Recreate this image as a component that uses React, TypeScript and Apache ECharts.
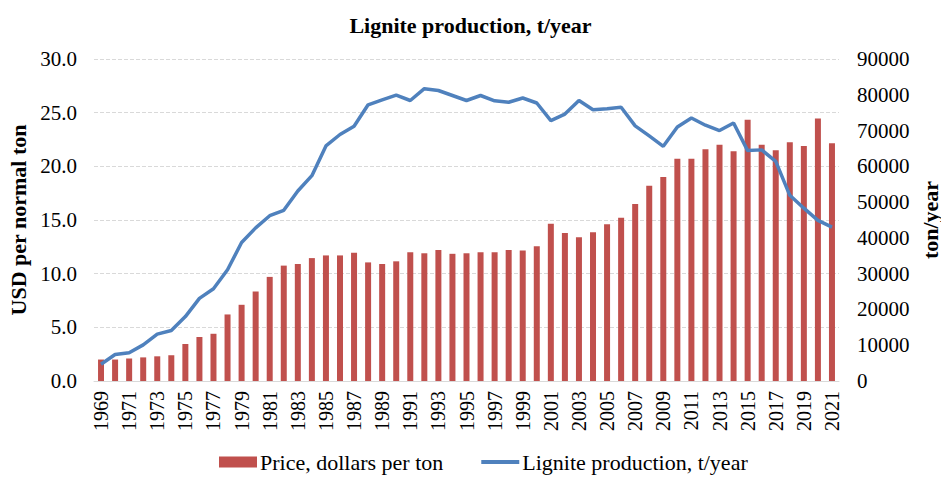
import React, { useEffect, useRef } from "react";
import * as echarts from "echarts";

const years: string[] = [];
for (let y = 1969; y <= 2021; y++) years.push(String(y));

const price: number[] = [
  2.0, 2.0, 2.1, 2.2, 2.3, 2.4, 3.45, 4.1, 4.4, 6.2,
  7.1, 8.35, 9.7, 10.75, 10.9, 11.45, 11.7, 11.7, 11.95, 11.05,
  10.9, 11.15, 12.0, 11.9, 12.2, 11.85, 11.9, 12.0, 12.0, 12.2,
  12.15, 12.55, 14.65, 13.8, 13.4, 13.85, 14.6, 15.2, 16.5, 18.2,
  19.0, 20.7, 20.7, 21.6, 22.0, 21.4, 24.35, 22.0, 21.5, 22.25,
  21.9, 24.45, 22.15,
];

const production: number[] = [
  4700, 7400, 7900, 10100, 13100, 14100, 18000, 23100, 25800, 31100,
  38700, 42800, 46200, 47700, 53100, 57400, 65700, 68900, 71200, 77200,
  78600, 79900, 78400, 81700, 81200, 79800, 78400, 79800, 78300, 77900,
  79100, 77700, 72800, 74600, 78400, 75800, 76100, 76500, 71300, 68500,
  65600, 71000, 73500, 71500, 70000, 72100, 64400, 64600, 61400, 51900,
  48300, 44900, 43000,
];

const FONT = "'Liberation Serif', 'Times New Roman', serif";
const FS = 21;

export default function App() {
  const ref = useRef<HTMLDivElement>(null);
  useEffect(() => {
    if (!ref.current) return;
    const chart = echarts.init(ref.current, undefined, { renderer: "svg" });
    chart.setOption({
      animation: false,
      textStyle: { fontFamily: FONT },
      title: {
        text: "Lignite production, t/year",
        left: "center",
        top: 9,
        textStyle: { fontFamily: FONT, fontSize: 22, fontWeight: "bold", color: "#000" },
      },
      legend: {
        top: 445,
        left: 214,
        itemGap: 38,
        itemWidth: 38,
        itemHeight: 11,
        textStyle: { fontFamily: FONT, fontSize: 22, lineHeight: 24, color: "#000", padding: [0, 0, 0, -2] },
        data: [
          { name: "Price, dollars per ton", icon: "rect" },
          { name: "Lignite production, t/year", icon: "path://M0,0 L40,0 L40,4 L0,4 Z" },
        ],
      },
      grid: {
        left: 94,
        right: 102,
        top: 59,
        bottom: 97,
        containLabel: false,
        outerBoundsMode: "none",
      },
      xAxis: {
        type: "category",
        data: years,
        axisLine: { lineStyle: { color: "#d9d9d9" } },
        axisTick: { show: false },
        axisLabel: {
          interval: 1,
          rotate: 90,
          fontFamily: FONT,
          fontSize: 20,
          color: "#000",
          margin: 10,
        },
      },
      yAxis: [
        {
          type: "value",
          min: 0,
          max: 30,
          interval: 5,
          name: "USD per normal ton",
          nameLocation: "middle",
          nameRotate: 90,
          nameGap: 64,
          nameTextStyle: { fontFamily: FONT, fontSize: 22, fontWeight: "bold", color: "#000" },
          axisLine: { show: false },
          axisTick: { show: false },
          axisLabel: {
            fontFamily: FONT,
            fontSize: FS,
            color: "#000",
            margin: 17,
            formatter: (v: number) => v.toFixed(1),
          },
          splitLine: { lineStyle: { type: "dashed", color: "#d9d9d9" } },
        },
        {
          type: "value",
          min: 0,
          max: 90000,
          interval: 10000,
          name: "ton/year",
          nameLocation: "middle",
          nameRotate: 90,
          nameGap: 80,
          nameMoveOverlap: false,
          nameTextStyle: { fontFamily: FONT, fontSize: 22, lineHeight: 22, fontWeight: "bold", color: "#000" },
          axisLine: { show: false },
          axisTick: { show: false },
          axisLabel: {
            fontFamily: FONT,
            fontSize: FS,
            color: "#000",
            margin: 18,
            formatter: (v: number) => String(v),
          },
          splitLine: { show: false },
        },
      ],
      series: [
        {
          name: "Price, dollars per ton",
          type: "bar",
          data: price,
          barWidth: 6,
          itemStyle: { color: "#C0504D" },
          yAxisIndex: 0,
        },
        {
          name: "Lignite production, t/year",
          type: "line",
          data: production,
          yAxisIndex: 1,
          symbol: "none",
          lineStyle: { color: "#4F81BD", width: 3.5 },
          itemStyle: { color: "#4F81BD" },
        },
      ],
    });
    return () => chart.dispose();
  }, []);
  return <div ref={ref} style={{ width: 941, height: 478, position: "absolute", left: 0, top: 0 }} />;
}
